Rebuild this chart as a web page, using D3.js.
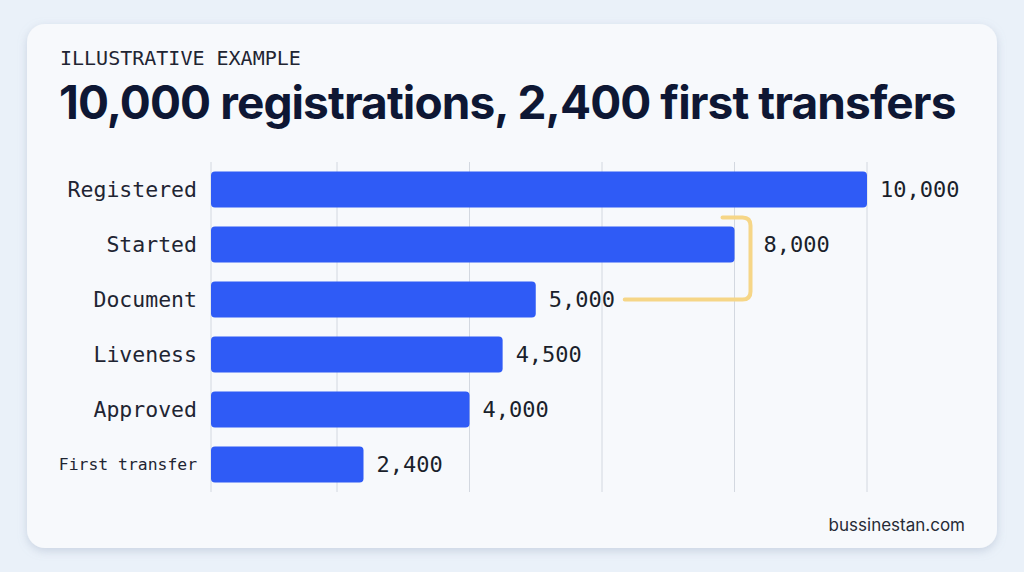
<!DOCTYPE html>
<html>
<head>
<meta charset="utf-8">
<script src="https://cdn.jsdelivr.net/npm/d3@7"></script>
<style>
  html, body { margin: 0; padding: 0; background: #eaf1f9; }
  svg { display: block; }
</style>
</head>
<body>
<svg id="chart" width="1024" height="572"></svg>
<script>
// funnel stages and counts
const stages = ["Registered", "Started", "Document", "Liveness", "Approved", "First transfer"];
const counts = [10000, 8000, 5000, 4500, 4000, 2400];
const gridTicks = [2000, 4000, 6000, 8000, 10000];

const svg = d3.select("#chart");

// drop shadow for the card
const defs = svg.append("defs");
const f = defs.append("filter").attr("id", "shadow").attr("x", "-10%").attr("y", "-10%").attr("width", "120%").attr("height", "130%");
f.append("feDropShadow").attr("dx", 0).attr("dy", 3).attr("stdDeviation", 5).attr("flood-color", "#8a9ab5").attr("flood-opacity", 0.35);

svg.append("rect")
  .attr("x", 27).attr("y", 24).attr("width", 970).attr("height", 524)
  .attr("rx", 18).attr("fill", "#f7f9fc").attr("filter", "url(#shadow)");

svg.append("text")
  .attr("x", 60).attr("y", 65)
  .attr("font-family", "DejaVu Sans Mono")
  .attr("font-size", 20).attr("fill", "#1f2533")
  .text("ILLUSTRATIVE EXAMPLE");

svg.append("text")
  .attr("x", 59).attr("y", 119)
  .attr("font-family", "Inter").attr("font-weight", 700)
  .attr("font-size", 46).attr("letter-spacing", -0.9).attr("fill", "#0e1734")
  .text("10,000 registrations, 2,400 first transfers");

const plotLeft = 211;
const x = d3.scaleLinear().domain([0, 10000]).range([204.5, 867]);
const y = d3.scaleBand().domain(stages).range([162, 492]).paddingInner(0.345).paddingOuter(0.173);

// gridlines (baseline + ticks)
svg.append("line")
  .attr("x1", plotLeft).attr("x2", plotLeft).attr("y1", 162).attr("y2", 492)
  .attr("stroke", "#d3d8e0");
svg.append("g").selectAll("line").data(gridTicks).join("line")
  .attr("x1", d => x(d)).attr("x2", d => x(d))
  .attr("y1", 162).attr("y2", 492)
  .attr("stroke", "#d3d8e0").attr("stroke-width", 1);

// bars
svg.append("g").selectAll("rect").data(stages).join("rect")
  .attr("x", plotLeft)
  .attr("y", d => y(d))
  .attr("width", (d, i) => x(counts[i]) - plotLeft)
  .attr("height", y.bandwidth())
  .attr("rx", 4)
  .attr("fill", "#2f5bf6");

// category labels
svg.append("g").selectAll("text").data(stages).join("text")
  .attr("x", 197)
  .attr("y", d => y(d) + y.bandwidth() / 2)
  .attr("dy", "0.35em")
  .attr("text-anchor", "end")
  .attr("font-family", "DejaVu Sans Mono")
  .attr("font-size", d => d.length > 12 ? 16.4 : 21.5)
  .attr("fill", "#1f2533")
  .text(d => d);

// drop-off bracket between Started and Document
const bx = x(counts[1]) + 16;
const yTop = y(stages[1]) - 9;
const yBot = y(stages[2]) + y.bandwidth() / 2;
const r = 8;
svg.append("path")
  .attr("d", `M${x(counts[2]) + 89},${yBot} H${bx - r} Q${bx},${yBot} ${bx},${yBot - r} V${yTop + r} Q${bx},${yTop} ${bx - r},${yTop} H${x(counts[1]) - 12}`)
  .attr("fill", "none")
  .attr("stroke", "#f6d687").attr("stroke-width", 4)
  .attr("stroke-linecap", "round");

// value labels (Started sits right of the bracket)
svg.append("g").selectAll("text").data(stages).join("text")
  .attr("x", (d, i) => (i === 1 ? bx : x(counts[i])) + 13)
  .attr("y", d => y(d) + y.bandwidth() / 2)
  .attr("dy", "0.35em")
  .attr("font-family", "DejaVu Sans Mono")
  .attr("font-size", 22)
  .attr("fill", "#1a1f2b")
  .text((d, i) => d3.format(",")(counts[i]));

svg.append("text")
  .attr("x", 965).attr("y", 531)
  .attr("text-anchor", "end")
  .attr("font-family", "Inter")
  .attr("font-size", 17).attr("fill", "#262b36")
  .text("bussinestan.com");
</script>
</body>
</html>
